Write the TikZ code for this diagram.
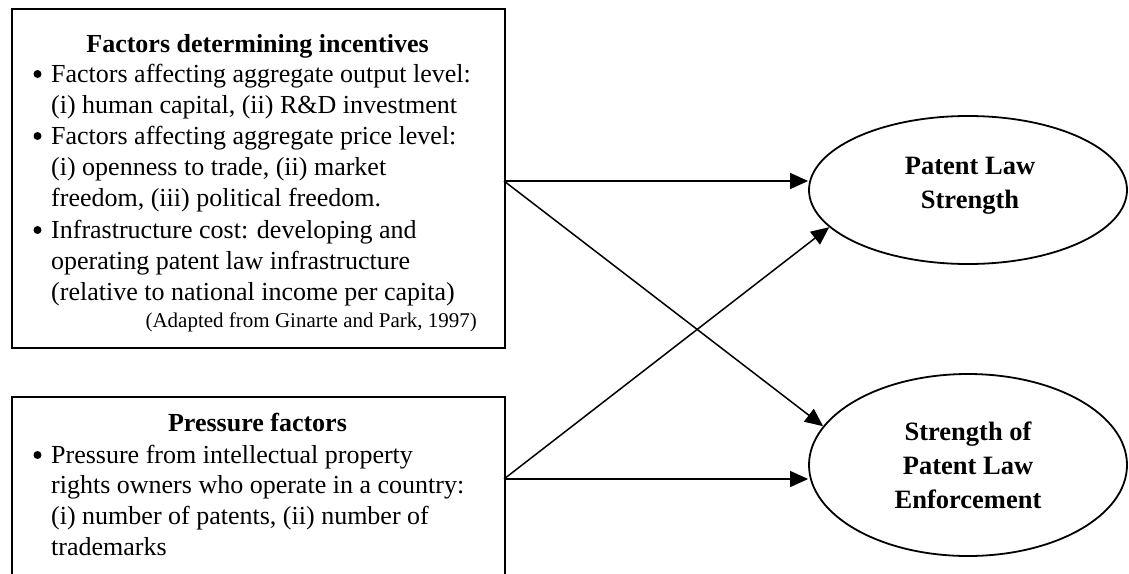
\documentclass[tikz,border=0pt]{standalone}
\usepackage{fontspec}
\setmainfont{Liberation Serif}
\usetikzlibrary{shapes.geometric,arrows.meta}
\tikzset{
  frame/.style={draw, line width=1.8pt, rectangle, inner sep=0pt, anchor=north west},
  txt/.style={inner sep=0pt, anchor=base west, font=\fontsize{26}{31}\selectfont},
  ttl/.style={inner sep=0pt, anchor=base, font=\fontsize{26}{31}\selectfont\bfseries},
  dot/.style={circle, fill=black, inner sep=0pt, minimum size=8pt},
  src/.style={inner sep=0pt, anchor=base east, font=\fontsize{21}{25}\selectfont},
  outcome/.style={draw, ellipse, line width=1.8pt, inner sep=0pt, align=center,
    font=\fontsize{26.5}{34}\selectfont\bfseries},
  link/.style={line width=1.5pt, -{Triangle[length=18pt,width=16pt]}}
}
\begin{document}
\begin{tikzpicture}[x=1pt,y=-1pt]
\useasboundingbox (0,0) rectangle (1129,573);
\clip (0,0) rectangle (1129,573);
\fill[white] (0,0) rectangle (1129,573);

% box 1
\node[frame, minimum width=493pt, minimum height=339pt] (f) at (11,8) {};
\node[ttl] (ft) at (257.5,52) {Factors determining incentives};
\node[dot] (b1) at (37.5,74) {};
\node[txt] (l1) at (51,82) {Factors affecting aggregate output level:};
\node[txt] (l2) at (51,113) {(i) human capital, (ii) R\&D investment};
\node[dot] (b2) at (37.5,136) {};
\node[txt] (l3) at (51,144) {Factors affecting aggregate price level:};
\node[txt] (l4) at (51,175) {(i) openness to trade, (ii) market};
\node[txt] (l5) at (51,206) {freedom, (iii) political freedom.};
\node[dot] (b3) at (37.5,230) {};
\node[txt] (l6) at (51,238) {Infrastructure cost: developing and};
\node[txt] (l7) at (51,269) {operating patent law infrastructure};
\node[txt] (l8) at (51,300) {(relative to national income per capita)};
\node[src] (s) at (477,327) {(Adapted from Ginarte and Park, 1997)};

% box 2
\node[frame, minimum width=493pt, minimum height=220pt] (g) at (11,396) {};
\node[ttl] (gt) at (257.5,431) {Pressure factors};
\node[dot] (b4) at (37.5,455) {};
\node[txt] (m1) at (51,463) {Pressure from intellectual property};
\node[txt] (m2) at (51,493) {rights owners who operate in a country:};
\node[txt] (m3) at (51,524) {(i) number of patents, (ii) number of};
\node[txt] (m4) at (51,555) {trademarks};

% outcomes
\node[outcome, minimum width=318pt, minimum height=148pt] (e1) at (968,190) {};
\node[inner sep=0pt, align=center, font=\fontsize{26.5}{34}\selectfont\bfseries] (t1) at (970,186) {Patent Law\\Strength};
\node[outcome, minimum width=318pt, minimum height=182pt] (e2) at (968,465) {Strength of\\Patent Law\\Enforcement};

% connectors
\coordinate (fo) at (504,181);
\coordinate (go) at (504,479);
\draw[link] (fo) -- (fo -| e1.west);
\draw[link] (fo) -- (e2.165);
\draw[link] (go) -- (go -| e2.west);
\draw[link] (go) -- (e1.195);
\end{tikzpicture}
\end{document}
